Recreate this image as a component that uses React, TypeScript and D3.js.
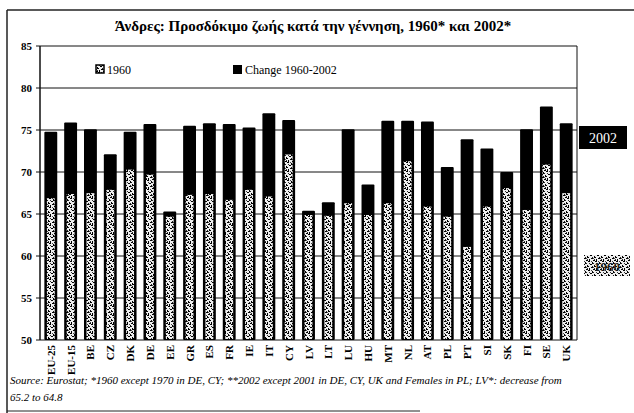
import React from 'react';
import * as d3 from 'd3';

const categories = ["EU-25","EU-15","BE","CZ","DK","DE","EE","GR","ES","FR","IE","IT","CY","LV","LT","LU","HU","MT","NL","AT","PL","PT","SI","SK","FI","SE","UK"];
const value1960 = [67.0,67.5,67.6,68.0,70.4,69.8,64.8,67.4,67.5,66.8,68.0,67.2,72.2,65.0,64.9,66.4,65.0,66.4,71.4,66.0,64.8,61.2,66.0,68.2,65.6,71.0,67.6];
const change19602002 = [7.8,8.4,7.5,4.1,4.4,5.9,0.5,8.1,8.3,8.9,7.3,9.8,4.0,0.4,1.5,8.7,3.5,9.7,4.7,10.0,5.8,12.7,6.8,1.8,9.5,6.8,8.2];
const yTicks = [50,55,60,65,70,75,80,85];
const seriesNames = ["1960","Change 1960-2002"];
const title = "Άνδρες: Προσδόκιμο ζωής κατά την γέννηση, 1960* και 2002*";
const sourceLines = [
  "Source: Eurostat; *1960 except 1970 in DE, CY; **2002 except 2001 in DE, CY, UK and Females in PL; LV*: decrease from",
  "65.2 to 64.8",
];

const W = 634, H = 413;
const left = 40, right = 577, top = 46, bottom = 340;
const yMin = 50;

export default function App() {
  const x = d3.scaleBand<string>().domain(categories).range([left, right]).paddingInner(0.35).paddingOuter(0.22);
  const y = d3.scaleLinear().domain([yMin, 85]).range([bottom, top]);
  const serif = "'Liberation Serif', 'Times New Roman', serif";
  const stackData = categories.map((c, i) => ({ c, a: value1960[i], b: change19602002[i] }));
  const stack = d3.stack<any>().keys(["a", "b"])(stackData);
  const bw = x.bandwidth();
  const yc = (v: number) => y(Math.max(yMin, v));

  return (
    <svg width={W} height={H} style={{ position: 'absolute', left: 0, top: 0, background: '#fff' }} fontFamily={serif}>
      <defs>
        <pattern id="speck" width="7" height="9" patternUnits="userSpaceOnUse">
          <rect width="7" height="9" fill="#eeeeee" />
          <rect x="0" y="0" width="2" height="1" fill="#000" />
          <rect x="4" y="1" width="1" height="2" fill="#000" />
          <rect x="2" y="3" width="2" height="1" fill="#000" />
          <rect x="6" y="4" width="1" height="2" fill="#000" />
          <rect x="0" y="5" width="1" height="1" fill="#000" />
          <rect x="3" y="6" width="2" height="1" fill="#000" />
          <rect x="1" y="7" width="1" height="2" fill="#000" />
          <rect x="5" y="8" width="2" height="1" fill="#000" />
          <rect x="5" y="2" width="1" height="1" fill="#222" />
          <rect x="1" y="2" width="1" height="1" fill="#333" />
          <rect x="4" y="5" width="1" height="1" fill="#222" />
          <rect x="6" y="7" width="1" height="1" fill="#333" />
          <rect x="3" y="0" width="1" height="1" fill="#444" />
          <rect x="5" y="6" width="1" height="1" fill="#555" />
        </pattern>
      </defs>
      {/* outer frame */}
      <line x1={7} y1={10} x2={634} y2={10} stroke="#222" strokeWidth={1.5} />
      <line x1={7} y1={10} x2={7} y2={413} stroke="#222" strokeWidth={1.5} />
      <line x1={7} y1={411} x2={420} y2={411} stroke="#222" strokeWidth={1} />

      <text x={313} y={31} textAnchor="middle" fontSize={15} fontWeight="bold">{title}</text>

      {/* gridlines */}
      {yTicks.map(t => (
        <g key={t}>
          <line x1={left} x2={right} y1={y(t)} y2={y(t)} stroke="#111" strokeWidth={1} />
          <line x1={left - 4} x2={left} y1={y(t)} y2={y(t)} stroke="#111" strokeWidth={1} />
          <text x={32} y={y(t) + 4} textAnchor="end" fontSize={11} fontWeight="bold">{t}</text>
        </g>
      ))}
      <line x1={left} x2={left} y1={top} y2={bottom} stroke="#111" strokeWidth={1.5} />
      <line x1={right} x2={right} y1={top} y2={bottom} stroke="#111" strokeWidth={1} />

      {/* bars */}
      {stackData.map((d, i) => {
        const x0 = x(d.c)!;
        const s0 = stack[0][i];
        const s1 = stack[1][i];
        return (
          <g key={d.c}>
            <rect x={x0} y={yc(s1[1])} width={bw} height={yc(s0[0]) - yc(s1[1])} fill="#000" rx={1} />
            <rect x={x0 + 2.5} y={yc(s0[1]) + 1} width={bw - 5} height={yc(s0[0]) - yc(s0[1]) - 2} fill="url(#speck)" />
          </g>
        );
      })}

      {/* x labels */}
      {categories.map(c => (
        <text key={c} transform={`translate(${x(c)! + bw / 2 + 4},${bottom + 5}) rotate(-90)`} textAnchor="end" fontSize={11} fontWeight="bold">{c}</text>
      ))}

      {/* legend */}
      <rect x={96} y={65} width={8} height={8} fill="url(#speck)" stroke="#000" strokeWidth={1.5} />
      <text x={107} y={74} fontSize={12}>{seriesNames[0]}</text>
      <rect x={233} y={65} width={9} height={9} fill="#000" />
      <text x={245} y={74} fontSize={12}>{seriesNames[1]}</text>

      {/* right side labels */}
      <rect x={579} y={126} width={48} height={23} fill="#000" />
      <text x={603} y={143} textAnchor="middle" fontSize={14} fill="#fff">2002</text>
      <rect x={584} y={255} width={46} height={21} fill="url(#speck)" />
      <text x={607} y={271} textAnchor="middle" fontSize={13} fontWeight="bold" fill="#222">1960</text>

      {/* source */}
      {sourceLines.map((s, i) => (
        <text key={i} x={10} y={384 + i * 17} fontSize={11} fontStyle="italic">{s}</text>
      ))}
    </svg>
  );
}
